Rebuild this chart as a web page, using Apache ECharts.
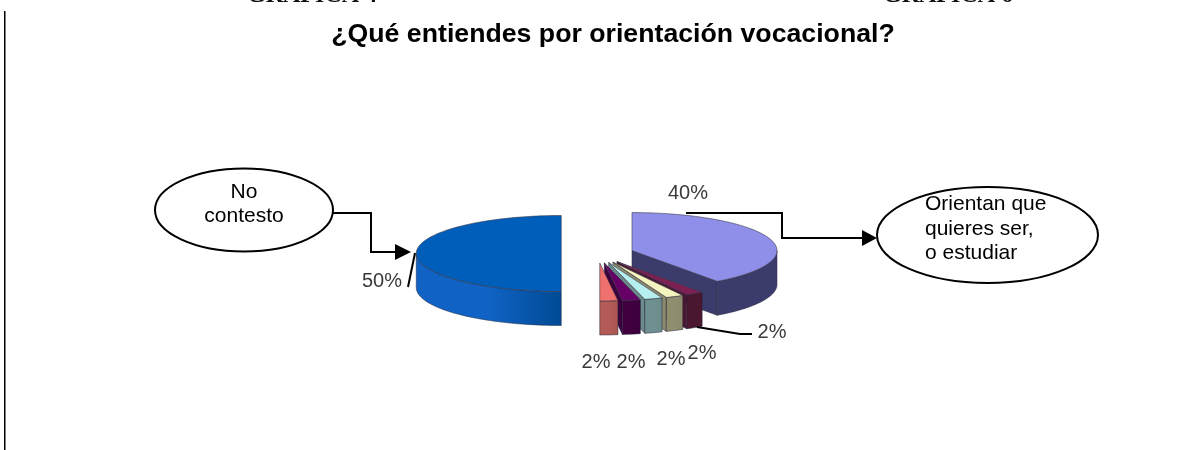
<!DOCTYPE html>
<html>
<head>
<meta charset="utf-8">
<style>
html,body{margin:0;padding:0;background:#fff}
#main{width:1183px;height:450px}
</style>
<script src="https://cdn.jsdelivr.net/npm/echarts@6/dist/echarts.min.js"></script>
</head>
<body>
<div id="main"></div>
<script>
// datos, en sentido horario desde las 12
const categories = ['Orientan que quieres ser, o estudiar','Otra 1','Otra 2','Otra 3','Otra 4','Otra 5','No contesto'];
const values = [40,2,2,2,2,2,50];

const topColors = ['#8f8fea','#7c1f52','#f4f4bf','#b6eff0','#660066','#ee716d','#005ebb'];
const wallLeft  = ['#3c3c6c','#4a1630','#8f8f70','#6f9090','#400040','#b45b57','#1063c4'];
const wallRight = ['#3c3c6c','#4a1630','#8a8a6c','#6c8c8c','#3c003c','#a85450','#004a94'];
const labelPos = [[688,193],[772,332],[702,353],[671,359],[631,362],[596,362],[382,281]];

// geometria de la torta
const cx = 597.5, cy = 253.5, rx = 145, ry = 38, depth = 34, explode = 0.25;
const total = values.reduce(function (a, b) { return a + b; }, 0);

function pt(ox, oy, deg, r) {
    let a = deg * Math.PI / 180;
    return [ox + Math.sin(a) * rx * r, oy - Math.cos(a) * ry * r];
}
function arc(ox, oy, a0, a1, dy) {
    let out = [];
    let n = Math.max(2, Math.ceil(Math.abs(a1 - a0) / 2));
    for (let i = 0; i <= n; i++) {
        let p = pt(ox, oy, a0 + (a1 - a0) * i / n, 1);
        out.push([p[0], p[1] + dy]);
    }
    return out;
}

function renderSlice(params) {
    let i = params.dataIndex;
    let a0 = 0;
    for (let k = 0; k < i; k++) a0 += values[k] / total * 360;
    let a1 = a0 + values[i] / total * 360;
    let c = pt(cx, cy, (a0 + a1) / 2, explode);
    let stroke = '#23233a';
    let children = [];

    // paredes de los cortes que miran al frente
    [a0, a1].forEach(function (a, idx) {
        let s = Math.sin(a * Math.PI / 180) * (idx === 0 ? -1 : 1);
        if (s > 0.01) {
            let p = pt(c[0], c[1], a, 1);
            children.push({
                type: 'polygon',
                shape: { points: [c, p, [p[0], p[1] + depth], [c[0], c[1] + depth]] },
                style: { fill: wallRight[i], stroke: stroke, lineWidth: 0.5 }
            });
        }
    });
    // pared exterior, solo la mitad de adelante
    let w0 = Math.max(a0, 90), w1 = Math.min(a1, 270);
    if (w1 > w0) {
        let up = arc(c[0], c[1], w0, w1, 0);
        let down = arc(c[0], c[1], w1, w0, depth);
        children.push({
            type: 'polygon',
            shape: { points: up.concat(down) },
            style: {
                fill: new echarts.graphic.LinearGradient(0, 0, 1, 0, [
                    { offset: 0, color: wallLeft[i] },
                    { offset: 0.5, color: wallLeft[i] },
                    { offset: 1, color: wallRight[i] }
                ]),
                stroke: stroke, lineWidth: 0.5
            }
        });
    }
    // cara de arriba
    children.push({
        type: 'polygon',
        shape: { points: [c].concat(arc(c[0], c[1], a0, a1, 0)) },
        style: { fill: topColors[i], stroke: '#3a3a4a', lineWidth: 0.6 }
    });
    children.push({
        type: 'text',
        style: {
            text: values[i] + '%',
            x: labelPos[i][0], y: labelPos[i][1],
            align: 'center', verticalAlign: 'middle',
            font: '20px "Liberation Sans", Arial, sans-serif',
            fill: '#3a3a3a'
        }
    });
    return { type: 'group', children: children };
}

function line(points, width) {
    return { type: 'polyline', z: 20, shape: { points: points }, style: { stroke: '#000', lineWidth: width || 2, fill: null } };
}
function arrow(base, tip, y) {
    return { type: 'polygon', z: 20, shape: { points: [[base, y - 8], [tip, y], [base, y + 8]] }, style: { fill: '#000' } };
}
function ellipse(x, y, a, b) {
    return { type: 'ellipse', z: 10, shape: { cx: x, cy: y, rx: a, ry: b }, style: { fill: '#fff', stroke: '#000', lineWidth: 2 } };
}
function note(text, x, y, align) {
    return { type: 'text', z: 21, style: { text: text, x: x, y: y, align: align, verticalAlign: 'middle', font: '21px "Liberation Sans", Arial, sans-serif', fill: '#000' } };
}
function head(text, x) {
    return { type: 'text', z: 21, style: { text: text, x: x, y: 8, align: 'left', verticalAlign: 'bottom', font: 'bold 24px "Liberation Serif", serif', fill: '#111' } };
}

let myChart = echarts.init(document.getElementById('main'));
let option = {
    animation: false,
    backgroundColor: '#fff',
    title: {
        text: '¿Qué entiendes por orientación vocacional?',
        left: 608, top: 30, textAlign: 'center', textVerticalAlign: 'middle',
        textStyle: { fontFamily: '"Liberation Sans", Arial, sans-serif', fontWeight: 'bold', fontSize: 26.7, color: '#000' }
    },
    graphic: [
        line([[4.75, 11], [4.75, 450]], 1.5),
        head('GRAFICA 4', 247),
        head('GRAFICA 6', 883),
        ellipse(244, 210, 89, 41.5),
        note('No', 244, 192, 'center'),
        note('contesto', 244, 216, 'center'),
        line([[333, 213], [371, 213], [371, 252], [396, 252]]),
        arrow(395, 411, 252),
        line([[408, 287], [415, 253]], 2),
        ellipse(987.5, 235, 110.5, 48),
        note('Orientan que', 925, 204.5, 'left'),
        note('quieres ser,', 925, 229, 'left'),
        note('o estudiar', 925, 253, 'left'),
        line([[686, 213], [782, 213], [782, 238], [863, 238]]),
        arrow(862, 877, 238),
        line([[697, 327], [740, 334], [752, 334]], 2)
    ],
    series: [{
        type: 'custom',
        coordinateSystem: 'none',
        renderItem: renderSlice,
        data: categories.map(function (name, i) { return { name: name, value: values[i] }; })
    }]
};
myChart.setOption(option);
</script>
</body>
</html>
